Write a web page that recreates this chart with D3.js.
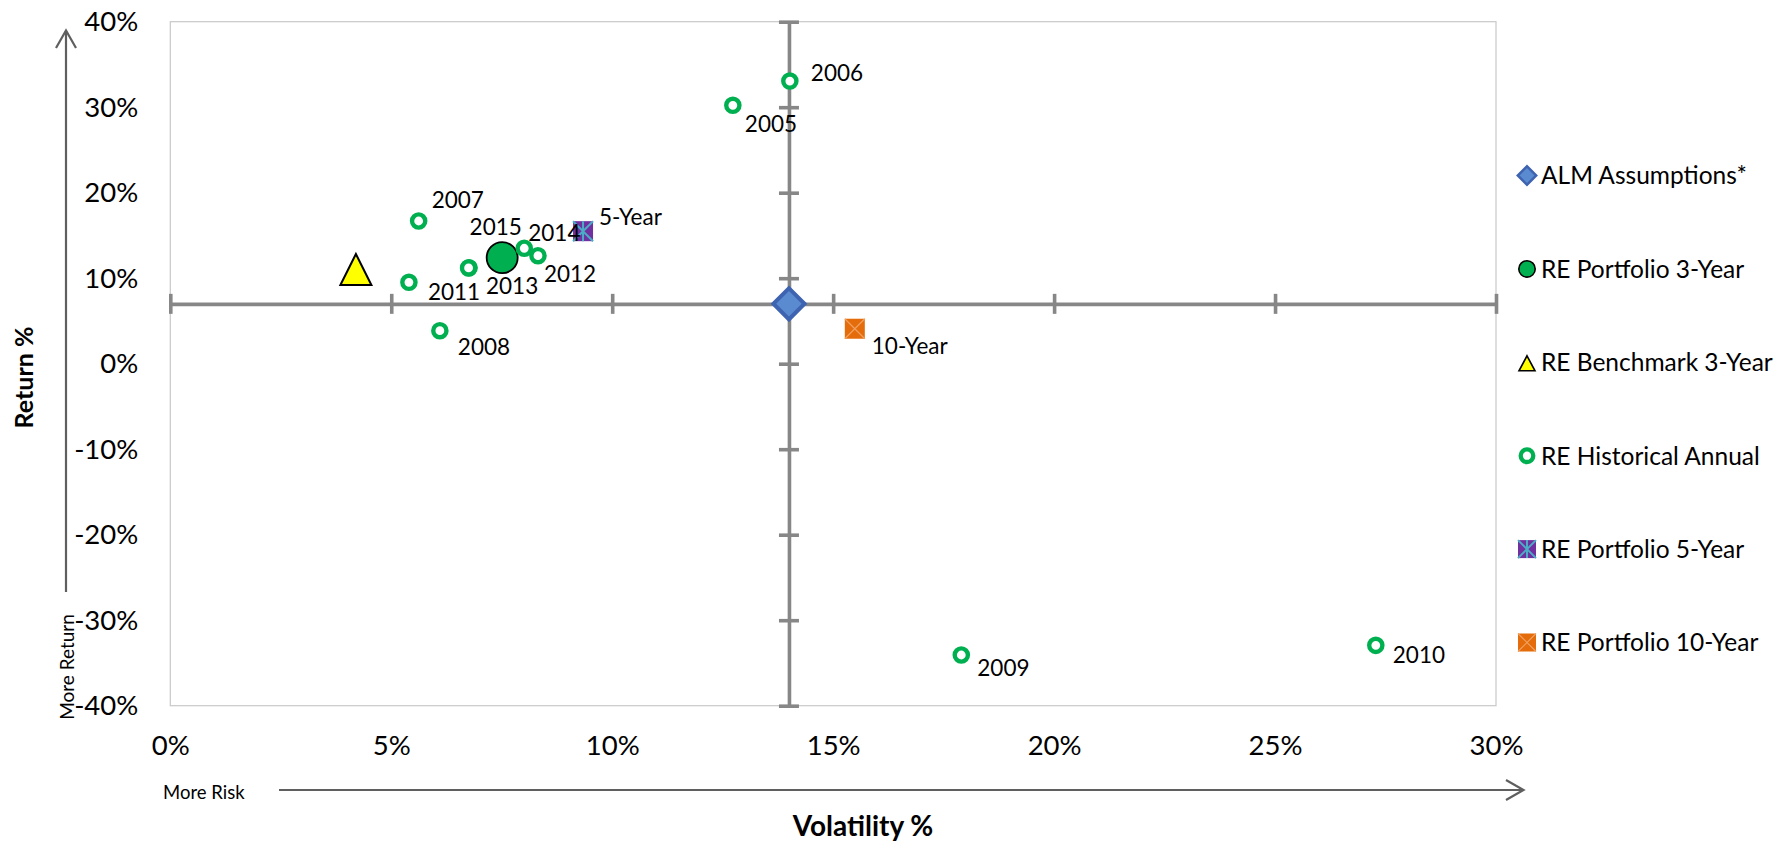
<!DOCTYPE html>
<html>
<head>
<meta charset="utf-8">
<script src="https://cdn.jsdelivr.net/npm/d3@7/dist/d3.min.js"></script>
<style>
  html, body { margin: 0; padding: 0; background: #fff; }
  svg { display: block; }
  text { font-family: Lato, "Open Sans", sans-serif; fill: #000; }
</style>
</head>
<body>
<svg id="chart" width="1790" height="842"></svg>
<script>
// ---------------- data ----------------
const seriesNames = ["ALM Assumptions*", "RE Portfolio 3-Year", "RE Benchmark 3-Year",
                     "RE Historical Annual", "RE Portfolio 5-Year", "RE Portfolio 10-Year"];

const almVol = [0.140];  const almRet = [0.070];
const p3Vol = [0.0751];  const p3Ret = [0.124];
const b3Vol = [0.0420];  const b3Ret = [0.1102];
const p5Vol = [0.0934];  const p5Ret = [0.155];
const p10Vol = [0.1549]; const p10Ret = [0.0409];

const years   = ["2005", "2006", "2007", "2008", "2009", "2010", "2011", "2012", "2013", "2014", "2015"];
const histVol = [0.1273, 0.1402, 0.0562, 0.0610, 0.1790, 0.2728, 0.0540, 0.0832, 0.0676, 0.0801, 0.0675];
const histRet = [0.3022, 0.3306, 0.1669, 0.0386, -0.3407, -0.3294, 0.0952, 0.1263, 0.1123, 0.1350, 0.1120];

const xTicks = [0, 0.05, 0.10, 0.15, 0.20, 0.25, 0.30];
const yTicks = [-0.40, -0.30, -0.20, -0.10, 0, 0.10, 0.20, 0.30, 0.40];

// label placement (pixel offsets from the marker centre: [dx, baseline dy])
const yearLabelOffset = {
  "2005": [12, 27], "2006": [21, 0], "2007": [13, -13], "2008": [18, 24],
  "2009": [16, 21], "2010": [17, 18], "2011": [19, 18], "2012": [6, 26],
  "2013": [17, 26], "2014": [4, -7], "2015": [1, -33]
};

// ---------------- layout ----------------
const svg = d3.select("#chart");
const L = 170.3, R = 1496, T = 21.7, B = 705.7;
const x = d3.scaleLinear().domain([0, 0.30]).range([L, R]);
const y = d3.scaleLinear().domain([-0.40, 0.40]).range([B, T]);

const GREEN = "#00B050", AXIS = "#878787";

// plot border
svg.append("rect").attr("x", L).attr("y", T).attr("width", R - L).attr("height", B - T)
  .attr("fill", "none").attr("stroke", "#C8C8C8").attr("stroke-width", 1.2);

// tick labels at plot edges
const pct = v => d3.format(".0%")(v).replace("\u2212", "-");
const yLab = svg.append("g").attr("transform", `translate(${L},0)`)
  .call(d3.axisLeft(y).tickValues(yTicks).tickFormat(pct).tickSize(0).tickPadding(32));
const xLab = svg.append("g").attr("transform", `translate(0,${B})`)
  .call(d3.axisBottom(x).tickValues(xTicks).tickFormat(pct).tickSize(0).tickPadding(30));
[yLab, xLab].forEach(g => {
  g.select(".domain").remove();
  g.selectAll("text").attr("font-family", "Lato").attr("font-size", 27.5).attr("fill", "#000");
});

// crossing axes (cross at ALM assumptions)
const hAxis = svg.append("g").attr("transform", `translate(0,${y(almRet[0])})`)
  .call(d3.axisBottom(x).tickValues(xTicks).tickFormat("").tickSizeOuter(0));
hAxis.select(".domain").attr("stroke", AXIS).attr("stroke-width", 3.6);
hAxis.selectAll(".tick line").attr("y1", -10).attr("y2", 10).attr("stroke", AXIS).attr("stroke-width", 3.6);

const vAxis = svg.append("g").attr("transform", `translate(${x(almVol[0])},0)`)
  .call(d3.axisLeft(y).tickValues(yTicks).tickFormat("").tickSizeOuter(0));
vAxis.select(".domain").attr("stroke", AXIS).attr("stroke-width", 3.6);
vAxis.selectAll(".tick line").attr("x1", -10).attr("x2", 10).attr("stroke", AXIS).attr("stroke-width", 3.6);

// ---------------- marker painters ----------------
function diamond(g, cx, cy, s, sw) {
  g.append("path").attr("d", d3.symbol(d3.symbolSquare, s * s)())
    .attr("transform", `translate(${cx},${cy}) rotate(45)`)
    .attr("fill", "#5A8AD0").attr("stroke", "#3E63B0").attr("stroke-width", sw);
}
function bigCircle(g, cx, cy, r, sw) {
  g.append("circle").attr("cx", cx).attr("cy", cy).attr("r", r)
    .attr("fill", GREEN).attr("stroke", "#000").attr("stroke-width", sw);
}
function triangle(g, cx, cy, w, h, sw) {
  const p = d3.path();
  p.moveTo(cx, cy - h / 2); p.lineTo(cx + w / 2, cy + h / 2); p.lineTo(cx - w / 2, cy + h / 2); p.closePath();
  g.append("path").attr("d", p.toString()).attr("fill", "#FFFF00")
    .attr("stroke", "#000").attr("stroke-width", sw).attr("stroke-linejoin", "miter");
}
function ring(g, cx, cy, r, sw) {
  g.append("circle").attr("cx", cx).attr("cy", cy).attr("r", r)
    .attr("fill", "#fff").attr("stroke", GREEN).attr("stroke-width", sw);
}
function starSquare(g, cx, cy, s) {
  const h = s / 2;
  g.append("rect").attr("x", cx - h).attr("y", cy - h).attr("width", s).attr("height", s).attr("fill", "#7030A0");
  const p = d3.path();
  p.moveTo(cx - h, cy - h); p.lineTo(cx + h, cy + h);
  p.moveTo(cx + h, cy - h); p.lineTo(cx - h, cy + h);
  p.moveTo(cx, cy - h); p.lineTo(cx, cy + h);
  g.append("path").attr("d", p.toString()).attr("stroke", "#4BACC6").attr("stroke-width", 2).attr("fill", "none");
}
function xSquare(g, cx, cy, s) {
  const h = s / 2;
  g.append("rect").attr("x", cx - h).attr("y", cy - h).attr("width", s).attr("height", s).attr("fill", "#E46C0A");
  const p = d3.path();
  p.moveTo(cx - h, cy - h); p.lineTo(cx + h, cy + h);
  p.moveTo(cx + h, cy - h); p.lineTo(cx - h, cy + h);
  g.append("path").attr("d", p.toString()).attr("stroke", "#F0A060").attr("stroke-width", 1.2).attr("fill", "none");
}

// ---------------- series ----------------
const marks = svg.append("g");
almVol.forEach((v, i) => diamond(marks, x(v), y(almRet[i]), 22, 4));
p3Vol.forEach((v, i) => bigCircle(marks, x(v), y(p3Ret[i]), 15.5, 1.8));
b3Vol.forEach((v, i) => triangle(marks, x(v), y(b3Ret[i]), 31, 31, 2));
histVol.forEach((v, i) => ring(marks, x(v), y(histRet[i]), 6.6, 4.4));
p5Vol.forEach((v, i) => starSquare(marks, x(v), y(p5Ret[i]), 20));
p10Vol.forEach((v, i) => xSquare(marks, x(v), y(p10Ret[i]), 20));

// data labels
const labels = svg.append("g").attr("font-size", 22.5);
years.forEach((yr, i) => {
  const o = yearLabelOffset[yr];
  labels.append("text").attr("x", x(histVol[i]) + o[0]).attr("y", y(histRet[i]) + o[1]).text(yr);
});
labels.append("text").attr("x", x(p5Vol[0]) + 16).attr("y", y(p5Ret[0]) - 6).text("5-Year");
labels.append("text").attr("x", x(p10Vol[0]) + 17).attr("y", y(p10Ret[0]) + 25).text("10-Year");

// ---------------- axis titles & arrows ----------------
svg.append("text").attr("x", 863).attr("y", 836).attr("text-anchor", "middle")
  .attr("font-size", 28).attr("font-weight", "bold").text("Volatility %");
svg.append("text").attr("transform", "translate(33,377.5) rotate(-90)").attr("text-anchor", "middle")
  .attr("font-size", 25).attr("font-weight", "bold").text("Return %");

const ARROW = "#5F5F5F";
svg.append("line").attr("x1", 279).attr("y1", 790).attr("x2", 1523).attr("y2", 790)
  .attr("stroke", ARROW).attr("stroke-width", 2.2);
svg.append("path").attr("d", "M1506,780 L1523.5,790 L1506,800").attr("fill", "none")
  .attr("stroke", ARROW).attr("stroke-width", 2.2);
svg.append("text").attr("x", 163).attr("y", 799).attr("font-size", 18.5).text("More Risk");

svg.append("line").attr("x1", 66).attr("y1", 592).attr("x2", 66).attr("y2", 31)
  .attr("stroke", ARROW).attr("stroke-width", 2.2);
svg.append("path").attr("d", "M56,48 L66,30.5 L76,48").attr("fill", "none")
  .attr("stroke", ARROW).attr("stroke-width", 2.2);
svg.append("text").attr("transform", "translate(74,667) rotate(-90)").attr("text-anchor", "middle")
  .attr("font-size", 19).text("More Return");

// ---------------- legend ----------------
const leg = svg.append("g");
const legX = 1527, legTextX = 1541, legY0 = 175.5, legStep = 93.4;
const painters = [
  (g, cx, cy) => diamond(g, cx, cy, 13, 2.5),
  (g, cx, cy) => bigCircle(g, cx, cy, 8.2, 1.6),
  (g, cx, cy) => triangle(g, cx, cy + 1, 16, 15, 1.6),
  (g, cx, cy) => ring(g, cx, cy, 6.3, 4.3),
  (g, cx, cy) => starSquare(g, cx, cy, 18),
  (g, cx, cy) => xSquare(g, cx, cy, 18)
];
seriesNames.forEach((name, i) => {
  const cy = legY0 + i * legStep;
  painters[i](leg, legX, cy);
  leg.append("text").attr("x", legTextX).attr("y", cy).attr("dy", "0.36em")
    .attr("font-size", 24.5).text(name);
});
</script>
</body>
</html>
